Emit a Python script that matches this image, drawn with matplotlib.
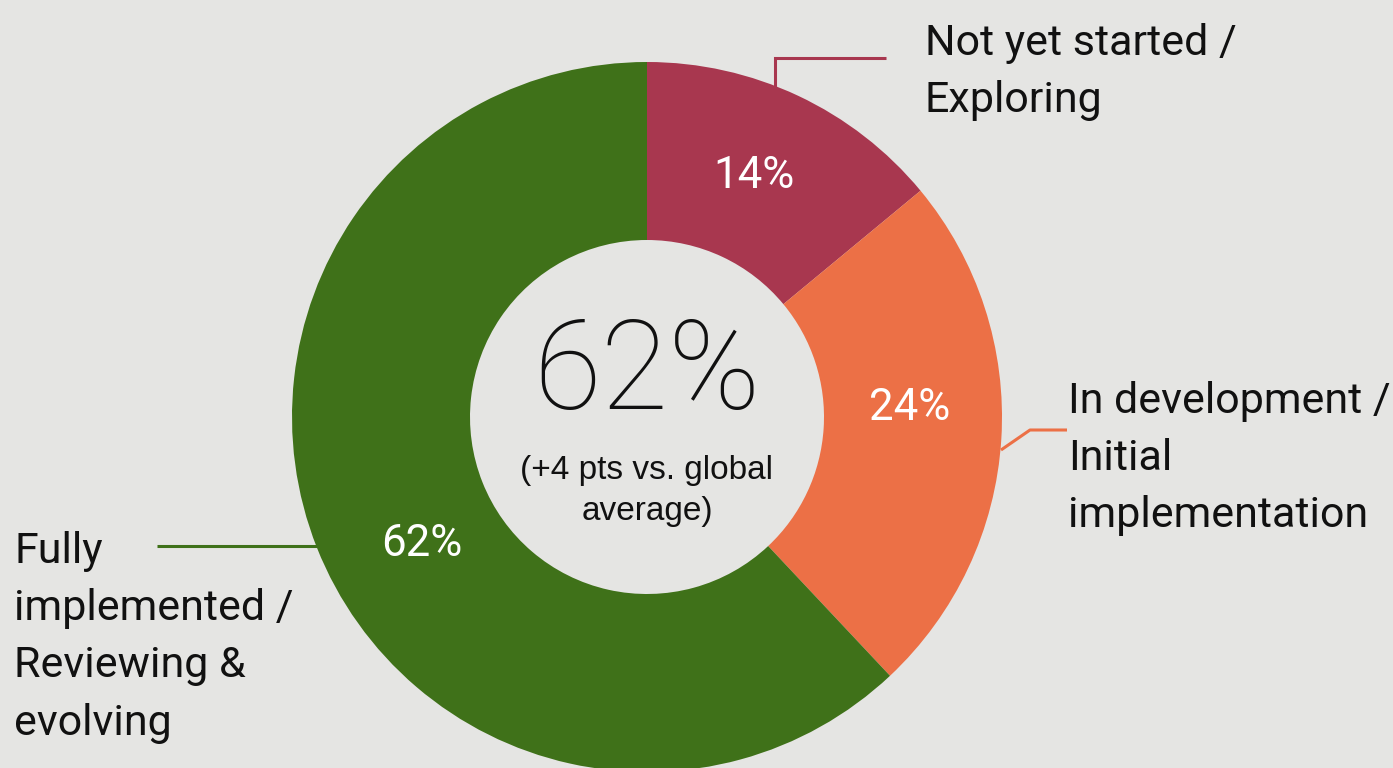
import matplotlib
matplotlib.use("Agg")
import matplotlib.pyplot as plt
from matplotlib import font_manager as fm

categories = ["Not yet started /\nExploring",
              "In development /\nInitial\nimplementation",
              "Fully\nimplemented /\nReviewing &\nevolving"]
values = [14, 24, 62]
pct_labels = ["14%", "24%", "62%"]
center_value = "62%"
center_note = "(+4 pts vs. global\naverage)"

colors = ["#A8374F", "#EC7046", "#3F7119"]
bg = "#E5E5E3"

W, H = 1393, 768
fig = plt.figure(figsize=(W / 100, H / 100), dpi=100, facecolor=bg)
ax = fig.add_axes([0, 0, 1, 1])
ax.set_facecolor(bg)

names = {f.name for f in fm.fontManager.ttflist}
main_font = "Roboto" if "Roboto" in names else "DejaVu Sans"

cx, cy, R = 647, H - 417, 355
ax.pie(values, colors=colors, center=(cx, cy), radius=R, startangle=90,
       counterclock=False, wedgeprops=dict(width=178, linewidth=0))
ax.set_xlim(0, W)
ax.set_ylim(0, H)
ax.set_aspect("equal")
ax.axis("off")

def Y(y):
    return H - y

# percentage labels inside wedges
pct_pos = [(754, 176), (910, 408), (422, 544)]
for (x, y), t in zip(pct_pos, pct_labels):
    ax.text(x, Y(y), t, color="white", fontsize=31.5, family=main_font,
            weight="normal", ha="center", va="center")

# centre text
ax.text(cx, Y(375), center_value, fontsize=89, family=main_font, weight="light",
        ha="center", va="center", color="#111111")
ax.text(cx, Y(491), center_note, fontsize=24, family="Liberation Sans",
        ha="center", va="center", color="#111111", linespacing=1.4)

# category labels, line by line
label_pos = [(925, 43), (1068, 401), (14, 551)]
step = 57.5
for (x, y), txt in zip(label_pos, categories):
    for i, line in enumerate(txt.split("\n")):
        ax.text(x, Y(y + i * step), line, fontsize=31, family=main_font,
                weight="normal", ha="left", va="center", color="#111111")

# leader lines
ax.plot([775, 775, 886], [Y(88), Y(58), Y(58)], color=colors[0], lw=2.2,
        solid_capstyle="butt", solid_joinstyle="miter")
ax.plot([1001, 1030, 1067], [Y(450), Y(430), Y(430)], color=colors[1], lw=2.2,
        solid_capstyle="butt")
ax.plot([157, 317], [Y(546), Y(546)], color=colors[2], lw=2.2,
        solid_capstyle="butt")

fig.savefig("out.png", dpi=100, facecolor=bg)
